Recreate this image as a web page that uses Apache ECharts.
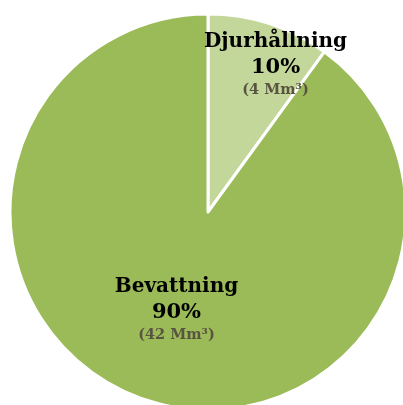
<!DOCTYPE html>
<html><head><meta charset="utf-8">
<script src="https://cdn.jsdelivr.net/npm/echarts@6/dist/echarts.min.js"></script>
<style>html,body{margin:0;padding:0;background:#fff}#c{width:403px;height:405px}</style>
</head><body><div id="c"></div>
<script>
var categories = ['Djurhållning', 'Bevattning'];
var percents = [10, 90];
var volumes = [4, 42];
var colors = ['#c4d79b', '#9bbb59'];

var chart = echarts.init(document.getElementById('c'), null, {renderer: 'canvas'});
chart.setOption({
  animation: false,
  series: [{
    type: 'pie',
    center: [208, 212],
    radius: 198,
    startAngle: 90,
    clockwise: true,
    data: categories.map(function (c, i) {
      return {name: c, value: percents[i], itemStyle: {color: colors[i]}};
    }),
    itemStyle: {borderColor: '#fff', borderWidth: 3},
    label: {
      show: true,
      position: 'inside',
      formatter: function (p) {
        return '{n|' + p.name + '}\n{p|' + percents[p.dataIndex] + '%}\n{v|(' + volumes[p.dataIndex] + ' Mm³)}';
      },
      rich: {
        n: {fontFamily: 'DejaVu Serif', fontWeight: 'bold', fontSize: 20, color: '#000', lineHeight: 27},
        p: {fontFamily: 'DejaVu Serif', fontWeight: 'bold', fontSize: 21, color: '#000', lineHeight: 25},
        v: {fontFamily: 'DejaVu Serif', fontWeight: 'bold', fontSize: 14.5, color: '#595440', lineHeight: 20}
      }
    },
    labelLine: {show: false},
    labelLayout: function (p) {
      return p.dataIndex === 0 ? {dx: 36, dy: -51} : {};
    },
    emphasis: {disabled: true}
  }]
});
</script></body></html>
